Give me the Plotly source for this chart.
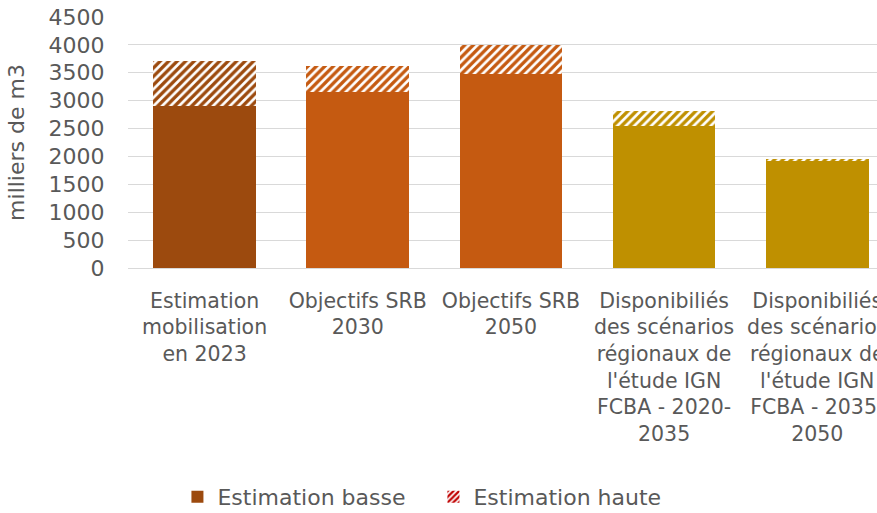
import plotly.graph_objects as go

# Data
categories = [
    "Estimation<br>mobilisation<br>en 2023",
    "Objectifs SRB<br>2030",
    "Objectifs SRB<br>2050",
    "Disponibiliés<br>des scénarios<br>régionaux de<br>l'étude IGN<br>FCBA - 2020-<br>2035",
    "Disponibiliés<br>des scénarios<br>régionaux de<br>l'étude IGN<br>FCBA - 2035-<br>2050",
]
estimation_basse = [2900, 3160, 3470, 2550, 1930]
estimation_haute = [3710, 3630, 4000, 2810, 1960]
bar_colors = ["#9C4A0E", "#C55A11", "#C55A11", "#BF9000", "#BF9000"]

# the hatched part is the gap between low and high estimate
ecart = [h - b for h, b in zip(estimation_haute, estimation_basse)]

FONT = "DejaVu Sans"
GREY = "#595959"

fig = go.Figure()

fig.add_trace(go.Bar(
    x=categories, y=estimation_basse, name="Estimation basse",
    marker=dict(color=bar_colors, line=dict(width=0)),
    showlegend=False, hoverinfo="skip",
))
fig.add_trace(go.Bar(
    x=categories, y=ecart, name="Estimation haute",
    marker=dict(
        color="white",
        line=dict(width=0),
        pattern=dict(shape="/", fgcolor=bar_colors, bgcolor="white",
                     fgopacity=1, size=6, solidity=0.55),
    ),
    showlegend=False, hoverinfo="skip",
))

# legend entries only
fig.add_trace(go.Bar(
    x=[categories[0]], y=[0], name="Estimation basse",
    marker=dict(color="#9C4A0E", line=dict(width=0)),
))
fig.add_trace(go.Bar(
    x=[categories[0]], y=[0], name="Estimation haute",
    marker=dict(color="white", line=dict(width=0),
                pattern=dict(shape="/", fgcolor="#C00000", bgcolor="white",
                             fgopacity=1, size=5, solidity=0.55)),
))

fig.update_layout(
    barmode="stack",
    bargap=0.33,
    width=877, height=513,
    margin=dict(l=128, r=0, t=17, b=245, autoexpand=False),
    plot_bgcolor="white", paper_bgcolor="white",
    font=dict(family=FONT, size=20, color=GREY),
    legend=dict(
        orientation="h", traceorder="normal",
        x=0.066, xanchor="left", y=-0.912, yanchor="middle",
        font=dict(size=22, color=GREY), itemwidth=30, entrywidth=211,
    ),
    xaxis=dict(
        range=[-0.5, 4.39], showgrid=False, showline=False, automargin=False,
        ticks="outside", tickcolor="rgba(0,0,0,0)", ticklen=14,
        tickfont=dict(size=20.5, color=GREY),
        tickangle=0,
    ),
    yaxis=dict(
        range=[0, 4500], dtick=500, automargin=False,
        showgrid=True, gridcolor="#D9D9D9", gridwidth=1.3,
        zeroline=True, zerolinecolor="#D9D9D9", zerolinewidth=1.3,
        ticks="outside", tickcolor="rgba(0,0,0,0)", ticklen=18,
        tickfont=dict(size=22, color=GREY),
        title=dict(text="milliers de m3", font=dict(size=22, color=GREY), standoff=17),
    ),
)

# drop the default 8px body margin so the figure sits at the window corner
fig.write_html(
    "out.html",
    config={"displayModeBar": False},
    post_script="document.body.style.margin='0';",
)
